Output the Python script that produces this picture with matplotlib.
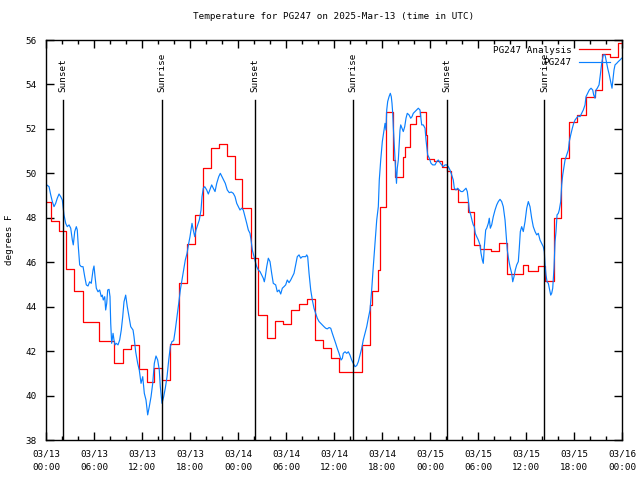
import pandas as pd
import matplotlib
matplotlib.use("Agg")
import matplotlib.pyplot as plt
import matplotlib.dates as mdates
import matplotlib.transforms as mtransforms

# hours after 2025-03-13 00:00 UTC
start = "2025-03-13 00:00"

# analysis: time (h) where each level starts, and the level (deg F)
ana_hours = [0.0, 0.59, 1.66, 2.54, 3.54, 4.63, 6.59, 8.54, 9.59, 10.59,
             11.66, 12.63, 13.54, 14.5, 15.54, 16.59, 17.59, 18.66, 19.66, 20.63,
             21.66, 22.59, 23.59, 24.56, 25.59, 26.56, 27.59, 28.59, 29.63, 30.63,
             31.63, 32.66, 33.65, 34.66, 35.63, 36.63, 39.54, 40.44, 40.71, 41.46,
             41.75, 42.44, 42.56, 43.41, 43.66, 44.59, 44.83, 45.5, 46.25, 46.75,
             47.5, 47.66, 48.5, 49.5, 50.09, 50.59, 51.54, 52.79, 53.5, 54.25,
             55.59, 56.63, 57.66, 59.66, 60.29, 61.46, 62.41, 63.44, 64.38, 65.41,
             66.41, 67.46, 68.63, 69.46, 70.5, 71.5, 72.0]
ana_temp = [48.71, 47.86, 47.41, 45.70, 44.71, 43.31, 42.46, 41.47, 42.10, 42.28,
            41.18, 40.60, 41.24, 40.70, 42.32, 45.05, 46.80, 48.11, 50.23, 51.13,
            51.30, 50.77, 49.73, 48.43, 46.18, 43.61, 42.60, 43.34, 43.20, 43.84,
            44.11, 44.35, 42.50, 42.12, 41.67, 41.05, 42.28, 44.08, 44.70, 45.65,
            48.50, 49.55, 52.78, 50.60, 49.85, 50.75, 51.20, 52.20, 52.60, 52.78,
            51.73, 50.65, 50.55, 50.30, 50.10, 49.28, 48.71, 48.27, 46.76, 46.61,
            46.52, 46.85, 45.45, 45.88, 45.62, 45.83, 45.16, 48.00, 50.68, 52.30,
            52.63, 53.45, 53.75, 55.37, 55.25, 55.85, 55.85]

# station observations
obs_hours = [0.09, 0.38, 0.59, 0.79, 1.0, 1.21, 1.41, 1.63, 1.84, 2.04,
             2.13, 2.25, 2.46, 2.66, 2.88, 3.09, 3.29, 3.41, 3.59, 3.79,
             3.91, 4.04, 4.21, 4.41, 4.63, 4.84, 5.04, 5.25, 5.46, 5.66,
             5.88, 6.0, 6.13, 6.29, 6.5, 6.71, 6.91, 7.04, 7.16, 7.34,
             7.46, 7.59, 7.71, 7.88, 8.0, 8.09, 8.21, 8.38, 8.5, 8.63,
             8.79, 9.0, 9.21, 9.41, 9.59, 9.75, 9.96, 10.16, 10.38, 10.59,
             10.88, 11.0, 11.21, 11.46, 11.66, 11.88, 12.09, 12.29, 12.5, 12.71,
             12.91, 13.13, 13.34, 13.54, 13.75, 13.96, 14.16, 14.29, 14.5, 14.71,
             14.91, 15.13, 15.34, 15.54, 15.75, 15.96, 16.16, 16.38, 16.59, 16.79,
             17.0, 17.21, 17.41, 17.63, 17.84, 18.0, 18.13, 18.25, 18.41, 18.59,
             18.75, 18.96, 19.16, 19.38, 19.5, 19.66, 19.84, 20.09, 20.29, 20.5,
             20.71, 20.91, 21.13, 21.34, 21.59, 21.79, 22.0, 22.21, 22.41, 22.66,
             22.91, 23.16, 23.41, 23.63, 23.84, 24.04, 24.25, 24.46, 24.66, 24.88,
             25.09, 25.29, 25.5, 25.63, 25.79, 26.0, 26.16, 26.34, 26.54, 26.75,
             26.96, 27.16, 27.29, 27.41, 27.59, 27.79, 28.0, 28.21, 28.41, 28.71,
             28.91, 29.13, 29.34, 29.54, 29.75, 29.96, 30.16, 30.38, 30.59, 30.79,
             31.0, 31.21, 31.41, 31.63, 31.84, 32.04, 32.25, 32.46, 32.59, 32.71,
             32.88, 33.09, 33.29, 33.5, 33.71, 33.91, 34.13, 34.34, 34.54, 34.75,
             34.96, 35.16, 35.38, 35.59, 35.79, 36.0, 36.21, 36.41, 36.63, 36.88,
             37.04, 37.16, 37.38, 37.59, 37.79, 38.0, 38.21, 38.41, 38.63, 38.84,
             39.04, 39.25, 39.46, 39.66, 39.88, 40.09, 40.29, 40.5, 40.71, 40.91,
             41.13, 41.34, 41.54, 41.66, 41.84, 42.04, 42.25, 42.38, 42.5, 42.59,
             42.71, 42.88, 43.04, 43.16, 43.25, 43.34, 43.41, 43.54, 43.66, 43.81,
             43.91, 44.04, 44.16, 44.25, 44.34, 44.5, 44.66, 44.84, 45.0, 45.16,
             45.38, 45.59, 45.75, 45.91, 46.13, 46.34, 46.54, 46.75, 46.96, 47.16,
             47.38, 47.5, 47.59, 47.71, 47.91, 48.13, 48.34, 48.63, 48.84, 49.04,
             49.25, 49.46, 49.66, 49.88, 50.09, 50.29, 50.5, 50.71, 50.91, 51.04,
             51.25, 51.46, 51.66, 51.88, 52.09, 52.29, 52.5, 52.66, 52.79, 52.91,
             53.09, 53.29, 53.41, 53.54, 53.66, 53.84, 54.04, 54.25, 54.38, 54.54,
             54.66, 54.79, 54.96, 55.09, 55.29, 55.41, 55.54, 55.71, 55.91, 56.13,
             56.34, 56.54, 56.75, 56.96, 57.16, 57.38, 57.5, 57.66, 57.84, 58.0,
             58.21, 58.34, 58.5, 58.66, 58.84, 59.04, 59.16, 59.29, 59.46, 59.66,
             59.88, 60.09, 60.29, 60.5, 60.71, 60.91, 61.13, 61.34, 61.54, 61.75,
             61.96, 62.16, 62.29, 62.38, 62.5, 62.63, 62.79, 62.91, 63.09, 63.21,
             63.34, 63.5, 63.63, 63.75, 63.88, 64.04, 64.16, 64.34, 64.46, 64.59,
             64.75, 64.88, 65.09, 65.29, 65.41, 65.59, 65.79, 65.96, 66.13, 66.34,
             66.54, 66.75, 66.96, 67.16, 67.38, 67.5, 67.71, 67.91, 68.13, 68.34,
             68.46, 68.63, 68.75, 68.91, 69.13, 69.29, 69.46, 69.66, 69.88, 70.04,
             70.21, 70.41, 70.63, 70.75, 70.88, 71.0, 71.13, 71.34, 71.54, 71.75,
             71.96]
obs_temp = [49.48, 49.40, 49.03, 48.73, 48.50, 48.65, 48.88, 49.07, 48.95, 48.80,
            48.50, 48.13, 47.75, 47.60, 47.68, 47.53, 47.00, 46.78, 47.38, 47.60,
            47.45, 46.70, 45.88, 45.80, 45.80, 45.35, 44.98, 44.93, 45.12, 45.05,
            45.65, 45.83, 45.35, 44.83, 44.67, 44.75, 44.45, 44.52, 44.30, 44.45,
            43.85, 44.15, 44.75, 44.78, 44.45, 43.25, 42.35, 42.80, 42.50, 42.28,
            42.35, 42.28, 42.50, 42.95, 43.55, 44.22, 44.52, 44.00, 43.55, 43.10,
            42.95, 42.65, 41.97, 41.45, 41.15, 40.55, 40.85, 40.10, 39.80, 39.13,
            39.50, 39.95, 40.55, 41.45, 41.78, 41.60, 41.15, 40.40, 39.65, 39.95,
            40.33, 40.85, 41.60, 42.20, 42.43, 42.47, 42.95, 43.55, 44.15, 44.75,
            45.20, 45.65, 46.10, 46.40, 46.85, 47.15, 47.45, 47.75, 47.45, 47.15,
            47.45, 47.68, 47.90, 48.35, 48.95, 49.33, 49.40, 49.25, 49.07, 49.28,
            49.48, 49.33, 49.18, 49.55, 49.85, 50.00, 49.85, 49.70, 49.55, 49.25,
            49.13, 49.16, 49.10, 48.95, 48.65, 48.50, 48.35, 48.43, 48.35, 48.05,
            47.75, 47.45, 47.30, 47.00, 46.55, 46.25, 46.03, 45.80, 45.65, 45.58,
            45.43, 45.28, 45.12, 45.35, 45.80, 46.18, 46.03, 45.50, 45.05, 44.98,
            44.67, 44.75, 44.57, 44.83, 44.90, 44.98, 45.20, 45.08, 45.20, 45.35,
            45.50, 45.88, 46.25, 46.33, 46.18, 46.25, 46.25, 46.25, 46.33, 46.25,
            45.50, 44.75, 44.30, 43.93, 43.70, 43.48, 43.33, 43.25, 43.18, 43.10,
            43.03, 43.00, 43.06, 43.03, 42.80, 42.58, 42.35, 42.12, 41.90, 41.60,
            41.67, 41.90, 41.97, 41.90, 41.97, 41.82, 41.60, 41.45, 41.30, 41.35,
            41.52, 41.82, 42.12, 42.50, 42.80, 43.10, 43.48, 43.85, 44.75, 45.80,
            46.85, 47.90, 48.50, 49.70, 50.60, 51.43, 51.95, 52.25, 51.95, 52.85,
            53.23, 53.45, 53.60, 53.45, 53.15, 52.70, 52.10, 51.20, 50.45, 49.55,
            50.23, 50.60, 51.35, 51.95, 52.18, 52.03, 51.88, 52.10, 52.48, 52.70,
            52.63, 52.48, 52.55, 52.70, 52.78, 52.85, 52.93, 52.85, 52.18, 52.18,
            52.03, 51.50, 51.20, 50.83, 50.68, 50.45, 50.38, 50.38, 50.53, 50.60,
            50.48, 50.38, 50.30, 50.38, 50.38, 50.30, 50.15, 49.93, 49.70, 49.33,
            49.25, 49.33, 49.25, 49.18, 49.18, 49.25, 49.33, 49.18, 48.80, 48.35,
            48.13, 47.83, 47.68, 47.60, 47.30, 47.15, 47.00, 46.78, 46.40, 46.10,
            45.95, 46.70, 47.45, 47.53, 47.75, 47.98, 47.53, 47.68, 48.05, 48.35,
            48.58, 48.73, 48.83, 48.73, 48.50, 47.90, 47.30, 46.55, 46.10, 45.80,
            45.50, 45.12, 45.35, 45.65, 45.88, 46.03, 46.63, 47.38, 47.60, 47.38,
            47.83, 48.43, 48.73, 48.50, 47.98, 47.60, 47.38, 47.23, 47.30, 47.00,
            46.85, 46.70, 46.48, 45.88, 45.43, 45.12, 45.05, 44.83, 44.52, 44.60,
            44.83, 45.73, 46.93, 47.38, 48.13, 48.20, 48.35, 48.73, 49.48, 49.93,
            50.30, 50.60, 50.83, 51.05, 51.43, 51.73, 52.03, 52.25, 52.40, 52.50,
            52.58, 52.55, 52.70, 52.85, 53.08, 53.45, 53.60, 53.75, 53.83, 53.75,
            53.53, 53.38, 53.75, 53.83, 53.98, 54.43, 54.95, 55.33, 55.33, 55.03,
            54.73, 54.43, 54.05, 53.83, 54.28, 54.65, 54.88, 54.95, 55.03, 55.10,
            55.18]

sun_times = ["2025-03-13 02:10", "2025-03-13 14:30", "2025-03-14 02:10",
             "2025-03-14 14:25", "2025-03-15 02:10", "2025-03-15 14:18"]
sun_labels = ["Sunset", "Sunrise", "Sunset", "Sunrise", "Sunset", "Sunrise"]

t0 = pd.Timestamp(start)
ana_t = t0 + pd.to_timedelta(ana_hours, unit="h")
obs_t = t0 + pd.to_timedelta(obs_hours, unit="h")

plt.rcParams["font.family"] = ["DejaVu Sans Mono"]
plt.rcParams["font.size"] = 6.7

fig = plt.figure(figsize=(6.4, 4.8), dpi=100)
ax = fig.add_axes([46 / 640, 40 / 480, 576 / 640, 400 / 480])

ax.plot(ana_t, ana_temp, drawstyle="steps-post", color="#ff0000", lw=0.9, label="PG247 Analysis")
ax.plot(obs_t, obs_temp, color="#0a80ff", lw=0.85, label="PG247")

trans = mtransforms.blended_transform_factory(ax.transData, ax.transAxes)
for st, lab in zip(sun_times, sun_labels):
    ts = pd.Timestamp(st)
    ax.axvline(ts, ymin=0, ymax=0.85, color="black", lw=1.0, zorder=3)
    ax.text(ts, 0.87, lab, rotation=90, ha="center", va="bottom", transform=trans)

ax.set_xlim(t0, t0 + pd.Timedelta(hours=72))
ax.set_ylim(38, 56)
ax.set_yticks(range(38, 57, 2))
ax.xaxis.set_major_locator(mdates.HourLocator(byhour=[0, 6, 12, 18]))
ax.xaxis.set_minor_locator(mdates.HourLocator(byhour=range(0, 24, 2)))
ax.xaxis.set_major_formatter(mdates.DateFormatter("%m/%d\n%H:%M"))
ax.tick_params(which="both", direction="in", top=True, right=True, width=1.0)
ax.tick_params(which="major", length=6, pad=7)
ax.tick_params(which="minor", length=3)
for s in ax.spines.values():
    s.set_linewidth(1.0)

ax.set_title("Temperature for PG247 on 2025-Mar-13 (time in UTC)", fontsize=6.7, pad=15)
fig.text(10 / 640, 0.5, "degrees F", rotation=90, ha="center", va="center")

ax.legend(loc="upper right", bbox_to_anchor=(0.985, 0.995), frameon=False,
          markerfirst=False, handlelength=3.3, labelspacing=0.35,
          borderaxespad=0, handletextpad=0.8)

fig.canvas.draw()
for lbl in ax.get_xticklabels():
    lbl.set_linespacing(1.55)

fig.savefig("out.png", dpi=100)
